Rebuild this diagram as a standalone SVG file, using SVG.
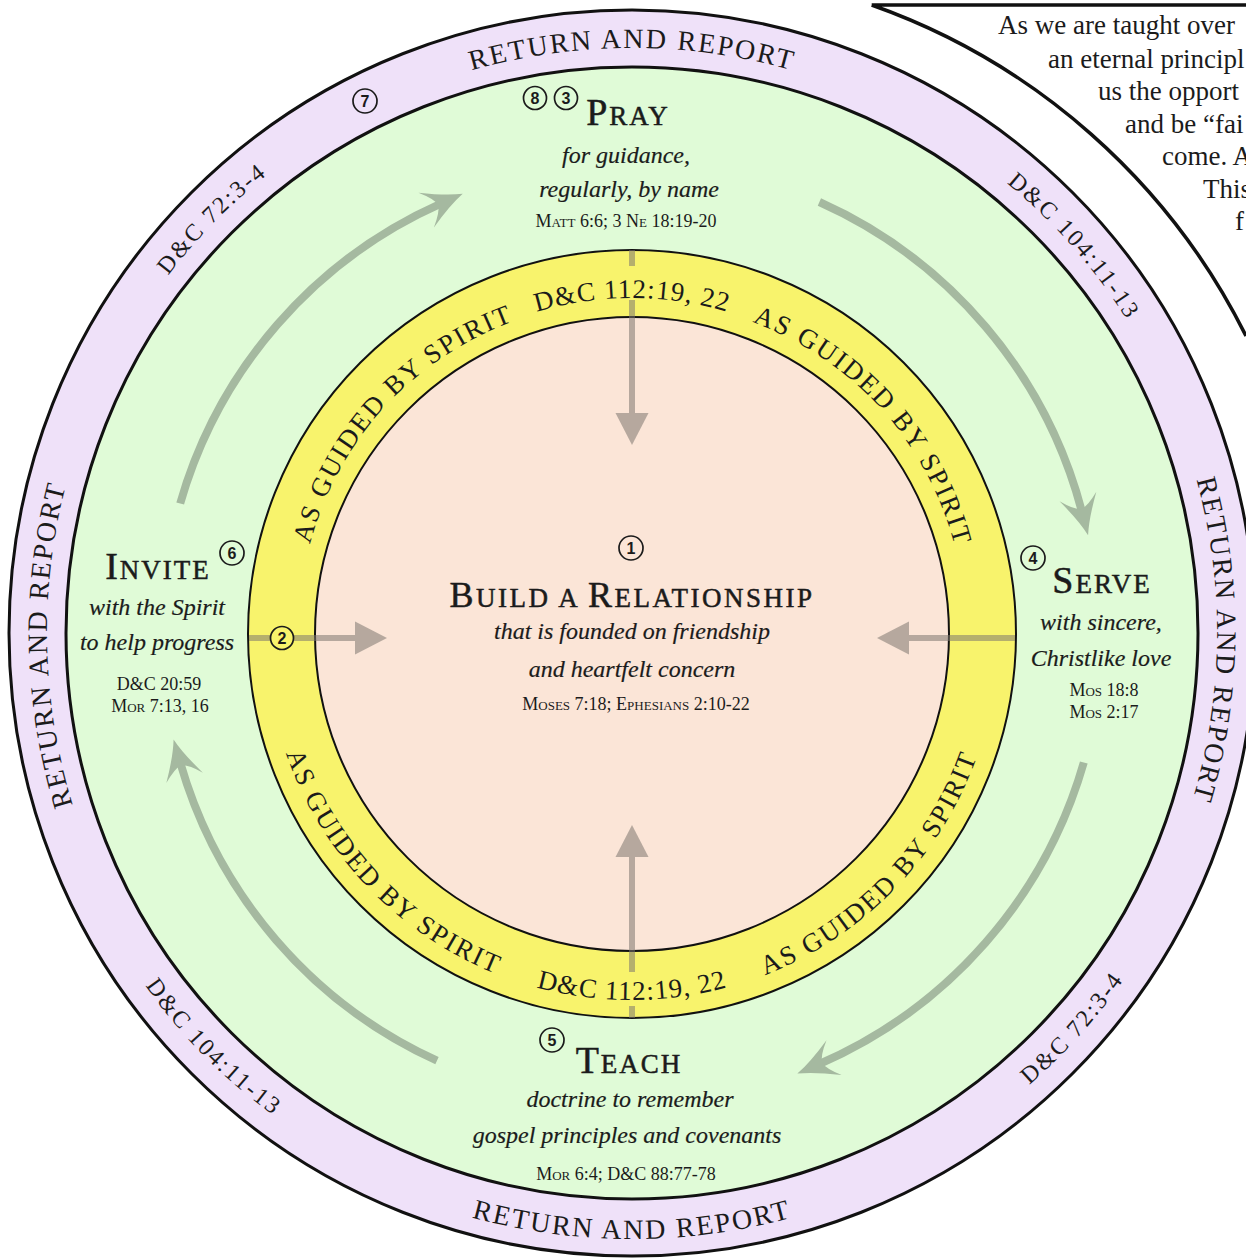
<svg xmlns="http://www.w3.org/2000/svg" width="1246" height="1258" viewBox="0 0 1246 1258">
<style>
text{font-family:"Liberation Serif","Times New Roman",serif;fill:#1b1b1b}
.hd{font-size:38px;text-anchor:middle;letter-spacing:2px;stroke:#1b1b1b;stroke-width:0.5px}
.sc{font-size:27px}
.it{font-style:italic;font-size:24px;text-anchor:middle;stroke:#1b1b1b;stroke-width:0.2px}
.ref{font-size:18px;text-anchor:middle}
.rs{font-size:13px}
.ring{font-size:28px;letter-spacing:2px;text-anchor:middle}
.ringsm{font-size:24px;letter-spacing:2.2px;text-anchor:middle}
.yl{font-size:27px;letter-spacing:2px;text-anchor:middle}
.num circle{fill:none;stroke:#1b1b1b;stroke-width:1.7}
.num text{font-family:"Liberation Sans",Arial,sans-serif;font-weight:bold;font-size:16px;text-anchor:middle}
.garr{fill:none;stroke:#a5b9a0;stroke-width:8;marker-end:url(#gh)}
.sarr{fill:none;stroke:#7d7770;stroke-opacity:.55;stroke-width:6}
.box{font-size:27px}
.edge{stroke:#111;fill:none}
</style>
<defs>
<marker id="gh" markerUnits="userSpaceOnUse" viewBox="-42 -21 44 42" markerWidth="44" markerHeight="42" refX="-24" refY="0" orient="auto"><path d="M0,0 Q-16,-5 -40,-19 Q-28,-7 -27,0 Q-28,7 -40,19 Q-16,5 0,0 Z" fill="#a5b9a0"/></marker>
<marker id="sh" markerUnits="userSpaceOnUse" viewBox="-34 -18 36 36" markerWidth="36" markerHeight="36" refX="-32" refY="0" orient="auto"><path d="M0,0 L-32,-16.5 L-32,16.5 Z" fill="#7d7770" fill-opacity=".55"/></marker>
<path id="pTop" d="M632,1218 A585,585 0 0 1 632,48 A585,585 0 0 1 632,1218"/>
<path id="pLeft" d="M1216.9,620.7 A585,585 0 0 1 47.1,645.3 A585,585 0 0 1 1216.9,620.7"/>
<path id="pRight" d="M47,625.9 A585,585 0 0 1 1217,640.1 A585,585 0 0 1 47,625.9"/>
<path id="pBot" d="M632,27 A606,606 0 0 0 632,1239 A606,606 0 0 0 632,27"/>
<path id="pUL72" d="M1049.2,1044.5 A586,586 0 0 1 214.8,221.5 A586,586 0 0 1 1049.2,1044.5"/>
<path id="pUR104" d="M191.1,1019 A586,586 0 0 1 1072.9,247 A586,586 0 0 1 191.1,1019"/>
<path id="pLL104" d="M1059.9,209.6 A602,602 0 0 0 204.1,1056.4 A602,602 0 0 0 1059.9,209.6"/>
<path id="pLR72" d="M183.9,231 A602,602 0 0 0 1080.1,1035 A602,602 0 0 0 183.9,231"/>
<path id="yTop" d="M632,970 A336,336 0 0 1 632,298 A336,336 0 0 1 632,970"/>
<path id="yUL" d="M879.7,861 A336,336 0 0 1 384.3,407 A336,336 0 0 1 879.7,861"/>
<path id="yUR" d="M382.3,858.8 A336,336 0 0 1 881.7,409.2 A336,336 0 0 1 382.3,858.8"/>
<path id="yBot" d="M632,268 A366,366 0 0 0 632,1000 A366,366 0 0 0 632,268"/>
<path id="yLL" d="M896.6,381.1 A366,366 0 0 0 367.4,886.9 A366,366 0 0 0 896.6,381.1"/>
<path id="yLR" d="M368.7,379.7 A366,366 0 0 0 895.3,888.3 A366,366 0 0 0 368.7,379.7"/>
</defs>
<rect width="1246" height="1258" fill="#fff"/>

<g id="textbox">
<path class="edge" stroke-width="3.5" d="M871.7,5 L1246,5 M871.7,5 A666,666 0 0 1 1246,336"/>
<text class="box" x="998" y="34">As we are taught over</text>
<text class="box" x="1048" y="68">an eternal principl</text>
<text class="box" x="1098" y="100">us the opport</text>
<text class="box" x="1125" y="133">and be “fai</text>
<text class="box" x="1162" y="165">come. A</text>
<text class="box" x="1203" y="198">This</text>
<text class="box" x="1235" y="230">f</text>
</g>

<g id="rings">
<circle cx="632" cy="633" r="623" fill="#efe1f9" stroke="#111" stroke-width="3"/>
<circle cx="632" cy="633" r="566" fill="#e0fbd7" stroke="#111" stroke-width="3"/>
<circle cx="632" cy="634" r="384" fill="#f8f36c" stroke="#111" stroke-width="2"/>
<circle cx="632" cy="634" r="317" fill="#fbe5d7" stroke="#111" stroke-width="2"/>
</g>

<g id="connectors">
<path class="garr" d="M180.2,503.5 A470,470 0 0 1 440.8,203.6"/>
<path class="garr" d="M819.4,202 A470,470 0 0 1 1082,512"/>
<path class="garr" d="M1083.8,762.5 A470,470 0 0 1 819.4,1064"/>
<path class="garr" d="M437,1060.7 A470,470 0 0 1 180.2,762.5"/>
<path class="sarr" d="M632,250 L632,266"/>
<path class="sarr" d="M632,300 L632,413" marker-end="url(#sh)"/>
<path class="sarr" d="M632,1018 L632,1006"/>
<path class="sarr" d="M632,972 L632,857" marker-end="url(#sh)"/>
<path class="sarr" d="M249,638 L355,638" marker-end="url(#sh)"/>
<path class="sarr" d="M1015,638 L909,638" marker-end="url(#sh)"/>
</g>

<g id="ring-labels">
<text class="ring"><textPath href="#pTop" startOffset="50%">RETURN AND REPORT</textPath></text>
<text class="ring"><textPath href="#pLeft" startOffset="50%">RETURN AND REPORT</textPath></text>
<text class="ring"><textPath href="#pRight" startOffset="50%">RETURN AND REPORT</textPath></text>
<text class="ring"><textPath href="#pBot" startOffset="50%">RETURN AND REPORT</textPath></text>
<text class="ringsm"><textPath href="#pUL72" startOffset="50%">D&amp;C 72:3-4</textPath></text>
<text class="ringsm"><textPath href="#pUR104" startOffset="50%">D&amp;C 104:11-13</textPath></text>
<text class="ringsm"><textPath href="#pLL104" startOffset="50%">D&amp;C 104:11-13</textPath></text>
<text class="ringsm"><textPath href="#pLR72" startOffset="50%">D&amp;C 72:3-4</textPath></text>
<text class="yl" style="letter-spacing:1px"><textPath href="#yTop" startOffset="50%">D&amp;C 112:19, 22</textPath></text>
<text class="yl" style="letter-spacing:1px"><textPath href="#yBot" startOffset="50%">D&amp;C 112:19, 22</textPath></text>
<text class="yl"><textPath href="#yUL" startOffset="50%">AS GUIDED BY SPIRIT</textPath></text>
<text class="yl"><textPath href="#yUR" startOffset="50%">AS GUIDED BY SPIRIT</textPath></text>
<text class="yl"><textPath href="#yLL" startOffset="50%">AS GUIDED BY SPIRIT</textPath></text>
<text class="yl"><textPath href="#yLR" startOffset="50%">AS GUIDED BY SPIRIT</textPath></text>
<g class="num" id="n7"><circle cx="365" cy="101" r="12"/><text x="365" y="107">7</text></g>
<g class="num" id="n2"><circle cx="282" cy="638" r="11.5" style="fill:#f8f36c"/><text x="282" y="644">2</text></g>
</g>

<g id="node-pray">
<g class="num"><circle cx="535" cy="98" r="11.5"/><text x="535" y="104">8</text></g>
<g class="num"><circle cx="566" cy="98" r="11.5"/><text x="566" y="104">3</text></g>
<text class="hd" x="628" y="125">P<tspan class="sc">RAY</tspan></text>
<text class="it" x="626" y="163">for guidance,</text>
<text class="it" x="629" y="197">regularly, by name</text>
<text class="ref" x="626" y="227">M<tspan class="rs">ATT</tspan> 6:6; 3 N<tspan class="rs">E</tspan> 18:19-20</text>
</g>

<g id="node-build">
<g class="num"><circle cx="631" cy="548" r="12"/><text x="631" y="554">1</text></g>
<text class="hd" x="632" y="607" style="font-size:36px;letter-spacing:2.5px">B<tspan class="sc">UILD A </tspan>R<tspan class="sc">ELATIONSHIP</tspan></text>
<text class="it" x="632" y="639">that is founded on friendship</text>
<text class="it" x="632" y="677">and heartfelt concern</text>
<text class="ref" x="636" y="710">M<tspan class="rs">OSES</tspan> 7:18; E<tspan class="rs">PHESIANS</tspan> 2:10-22</text>
</g>

<g id="node-invite">
<g class="num"><circle cx="232" cy="553" r="12"/><text x="232" y="559">6</text></g>
<text class="hd" x="158" y="579">I<tspan class="sc">NVITE</tspan></text>
<text class="it" x="157" y="615">with the Spirit</text>
<text class="it" x="157" y="650">to help progress</text>
<text class="ref" x="159" y="690">D&amp;C 20:59</text>
<text class="ref" x="160" y="712">M<tspan class="rs">OR</tspan> 7:13, 16</text>
</g>

<g id="node-serve">
<g class="num"><circle cx="1033" cy="558" r="12"/><text x="1033" y="564">4</text></g>
<text class="hd" x="1102" y="593">S<tspan class="sc">ERVE</tspan></text>
<text class="it" x="1101" y="630">with sincere,</text>
<text class="it" x="1101" y="666">Christlike love</text>
<text class="ref" x="1104" y="696">M<tspan class="rs">OS</tspan> 18:8</text>
<text class="ref" x="1104" y="718">M<tspan class="rs">OS</tspan> 2:17</text>
</g>

<g id="node-teach">
<g class="num"><circle cx="552" cy="1040" r="12"/><text x="552" y="1046">5</text></g>
<text class="hd" x="629" y="1073">T<tspan class="sc">EACH</tspan></text>
<text class="it" x="630" y="1107">doctrine to remember</text>
<text class="it" x="627" y="1143">gospel principles and covenants</text>
<text class="ref" x="626" y="1180">M<tspan class="rs">OR</tspan> 6:4; D&amp;C 88:77-78</text>
</g>
</svg>
